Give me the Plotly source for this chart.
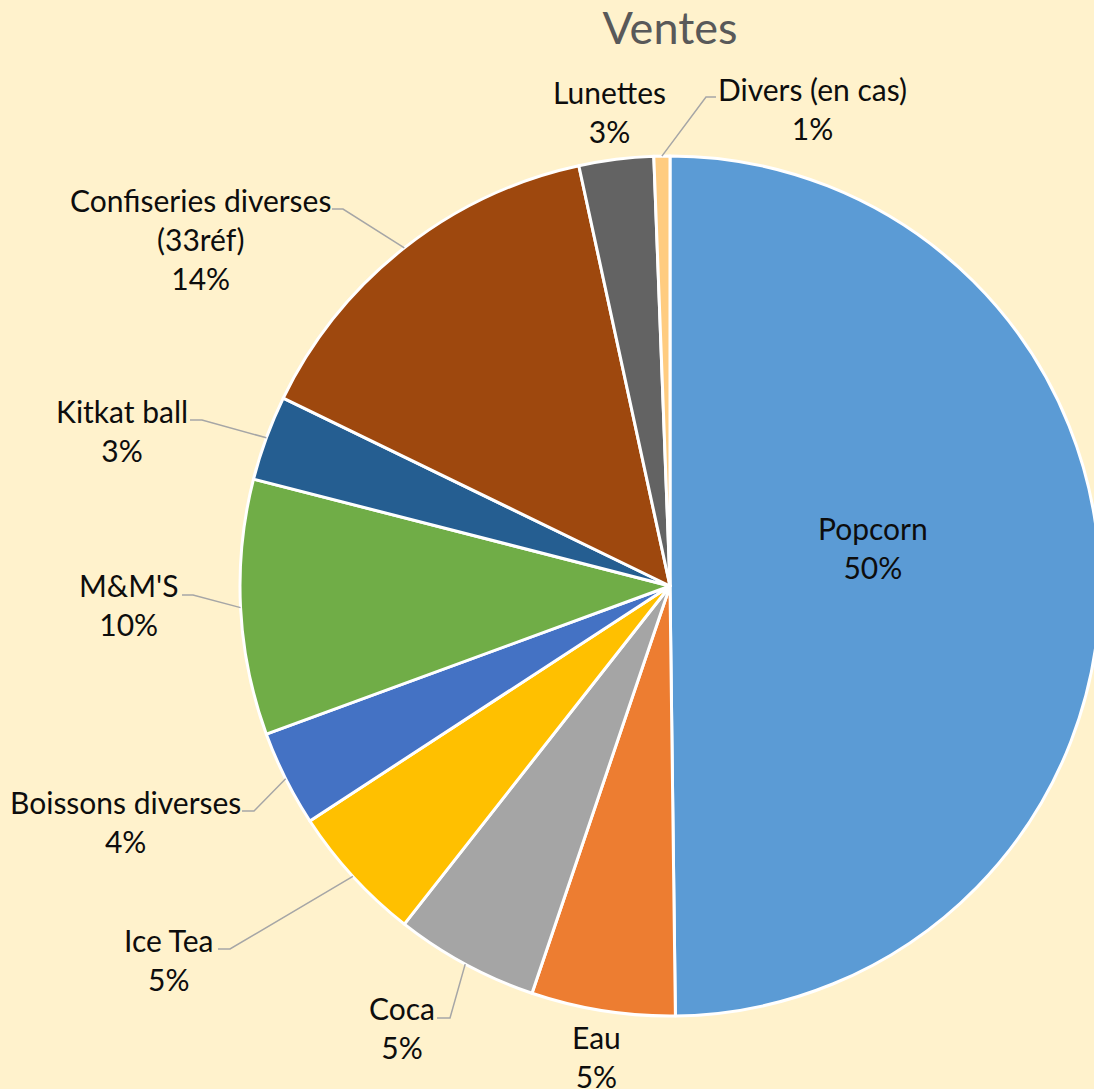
import numpy as np
import plotly.graph_objects as go

# ---- data ----
categories = ["Popcorn", "Eau", "Coca", "Ice Tea", "Boissons diverses", "M&M'S",
              "Kitkat ball", "Confiseries diverses<br>(33réf)", "Lunettes", "Divers (en cas)"]
values = [49.8, 5.4, 5.4, 5.2, 3.6, 9.6, 3.2, 14.4, 2.8, 0.6]
colors = ["#5B9BD5", "#ED7D31", "#A5A5A5", "#FFC000", "#4472C4", "#70AD47",
          "#255E91", "#9E480E", "#636363", "#FFCC80"]

# ---- layout helpers (pixel positions of labels / leader elbows) ----
W, H = 1100, 1089          # figure slightly wider than the 1094 window: pie is clipped at right
label_pos = [(873, 547), (596, 1056), (402, 1027), (168, 959), (125, 821), (128, 604),
             (122, 431), (200, 239), (609, 112), (812, 108)]
# leader: (text-side x, elbow x, y) or None
leaders = [None, None, (437, 450, 1018), (218, 230, 949), (242, 254, 811), (182, 193, 595),
           (190, 202, 420), (332, 343, 209), None, (716, 706, 97)]

dom_x = [240 / W, 1.0]
cy_px = 586
half_h = (dom_x[1] - dom_x[0]) * W / 2
dom_y = [1 - (cy_px + half_h) / H, 1 - (cy_px - half_h) / H]
cx_px = W * (dom_x[0] + dom_x[1]) / 2
r_px = half_h

def px(x, y):
    return x / W, 1 - y / H

total = sum(values)
pcts = [round(v / total * 100) for v in values]
cum = np.cumsum([0] + values[:-1])
mid_ang = (cum + np.array(values) / 2) / total * 2 * np.pi  # clockwise from top

fig = go.Figure(go.Pie(
    labels=categories, values=values, sort=False, direction="clockwise", rotation=0,
    marker=dict(colors=colors, line=dict(color="white", width=3)),
    textinfo="none", hoverinfo="label+percent", showlegend=False,
    domain=dict(x=dom_x, y=dom_y),
))

annotations = []
shapes = []
for i, cat in enumerate(categories):
    lx, ly = label_pos[i]
    ax_, ay_ = px(lx, ly)
    annotations.append(dict(
        x=ax_, y=ay_, xref="paper", yref="paper", showarrow=False,
        text=f"{cat}<br>{pcts[i]}%", align="center", xanchor="center", yanchor="middle",
        font=dict(family="Lato", size=30, color="#0d0d0d"),
    ))
    if leaders[i] is not None:
        tx, ex, ey = leaders[i]
        a = mid_ang[i]
        ex_pt = cx_px + r_px * np.sin(a)
        ey_pt = cy_px - r_px * np.cos(a)
        p0 = px(tx, ey); p1 = px(ex, ey); p2 = px(ex_pt, ey_pt)
        shapes.append(dict(
            type="path", xref="paper", yref="paper",
            path=f"M {p0[0]} {p0[1]} L {p1[0]} {p1[1]} L {p2[0]} {p2[1]}",
            line=dict(color="#A6A6A6", width=1.5),
        ))

fig.update_layout(
    width=W, height=H,
    paper_bgcolor="#FFF2CC", plot_bgcolor="#FFF2CC",
    margin=dict(l=0, r=0, t=0, b=0),
    title=dict(text="Ventes", x=cx_px / W, xanchor="center", y=1 - 28 / H, yanchor="middle",
               font=dict(family="Lato", size=45, color="#595959")),
    annotations=annotations, shapes=shapes,
)

fig.write_html("out.html", config={"displayModeBar": False},
               post_script="document.body.style.margin='0';document.body.style.overflow='hidden';")
